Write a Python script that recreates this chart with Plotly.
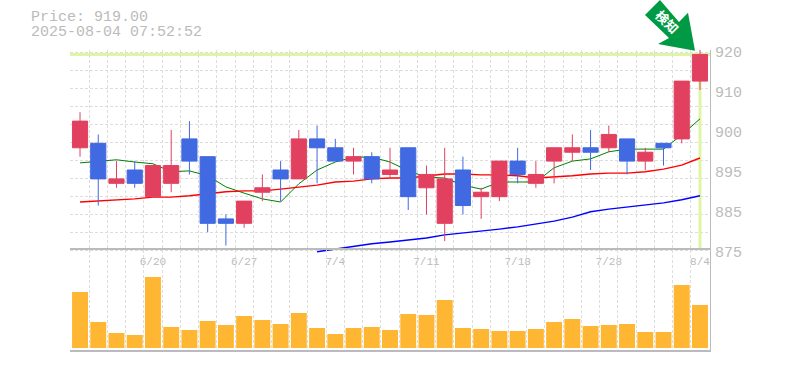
import plotly.graph_objects as go

W, H = 785, 370

tick_idx = [4, 9, 14, 19, 24, 29, 34]
tick_labels = ["6/20", "6/27", "7/4", "7/11", "7/18", "7/28", "8/4"]
price_tick_vals = [875, 884, 893, 902, 911, 920]
price_tick_text = ["875", "885", "895", "900", "910", "920"]

opens = [898, 899, 890, 893, 887, 890, 900, 896, 882, 881, 888, 893, 891, 900, 898, 895, 896, 892,
         898, 889, 881, 893, 887, 887, 895, 890, 895, 897, 898, 898, 900, 895, 899, 900, 913]
closes = [904, 891, 891, 890, 894, 894, 895, 881, 881, 886, 889, 891, 900, 898, 895, 896, 891, 893,
          887, 892, 891, 885, 888, 895, 892, 892, 898, 898, 897, 901, 895, 897, 898, 913, 919]
highs = [906, 901, 895, 895, 894, 902, 904, 896, 883, 886, 892, 895, 902, 903, 900, 898, 897, 898,
         898, 894, 898, 896, 889, 895, 898, 895, 898, 901, 902, 903, 900, 898, 899, 913, 920]
lows = [896, 885, 889, 889, 887, 888, 892, 879, 876, 880, 886, 886, 891, 890, 895, 892, 890, 891,
        884, 883, 877, 883, 882, 886, 890, 889, 890, 895, 893, 897, 892, 893, 894, 899, 911]
ma_short = [894.6, 895.0, 895.3, 894.8, 894.4, 892.6, 892.8, 891.7, 889.2, 887.8, 886.5, 885.8,
            889.9, 893.0, 894.8, 895.9, 895.9, 894.8, 892.8, 891.4, 891.2, 889.6, 888.7, 890.3,
            890.3, 890.3, 893.5, 895.0, 895.5, 897.1, 897.7, 897.7, 897.7, 900.9, 904.5]
ma_mid = [885.8, 886.0, 886.3, 886.5, 886.9, 886.9, 887.2, 887.6, 888.1, 888.3, 888.3, 888.7,
          889.2, 889.6, 890.3, 890.5, 891.0, 891.2, 891.2, 891.7, 892.1, 892.1, 891.9, 891.9,
          891.7, 891.2, 891.4, 891.7, 892.1, 892.3, 892.3, 892.6, 893.2, 894.1, 895.7]
ma_long = [None] * 13 + [874.6, 875.2, 875.9, 876.4, 876.8, 877.3, 877.7, 878.4, 878.8, 879.3,
                         879.7, 880.2, 880.9, 881.5, 882.4, 883.6, 884.2, 884.7, 885.1, 885.6,
                         886.3, 887.2]
volumes = [56, 26, 15, 13, 71, 21, 18, 27, 23, 32, 28, 24, 35, 20, 14, 20, 21, 18,
           34, 33, 48, 20, 19, 17, 17, 19, 26, 29, 22, 23, 24, 16, 16, 63, 43]
last_price = 919
header = ["Price: 919.00", "2025-08-04 07:52:52"]
badge_text = "<b>検知</b>"

xs = list(range(len(opens)))
GRAY = "#bbbbbb"
GRID = "#dddddd"
MONO = "Liberation Mono"
Y_RANGE = [874.325, 920]  # extends 3px under the panel divider so the long average shows there


def px(x):
    return x / W


def py(y):
    return (H - y) / H


grid_x = [i - 0.5 for i in xs] + [xs[-1] + 0.5]
minor = dict(tickmode="array", tickvals=grid_x, showgrid=True, gridcolor=GRID,
             griddash="3px,2px", gridwidth=1, ticks="")

fig = go.Figure()
for vals, col, w in [(ma_short, "#008000", 1), (ma_mid, "#ff0000", 1.4), (ma_long, "#0000ff", 1.4)]:
    fig.add_trace(go.Scatter(x=xs, y=vals, mode="lines", line=dict(color=col, width=w),
                             xaxis="x", yaxis="y", showlegend=False))
fig.add_trace(go.Candlestick(
    x=xs, open=opens, high=highs, low=lows, close=closes, xaxis="x", yaxis="y3",
    whiskerwidth=0, showlegend=False,
    increasing=dict(line=dict(color="#e2405f", width=1), fillcolor="#e2405f"),
    decreasing=dict(line=dict(color="#4169e1", width=1), fillcolor="#4169e1")))
fig.add_trace(go.Bar(x=xs, y=volumes, marker=dict(color="#ffb733", line_width=0), width=0.875,
                     xaxis="x2", yaxis="y2", showlegend=False))
fig.add_trace(go.Scatter(x=xs[:len(price_tick_vals)], y=price_tick_vals, mode="none",
                         hoverinfo="skip", xaxis="x3", yaxis="y4", showlegend=False))

x_dom = [px(70), px(710)]
x_rng = [-0.55, 34.55]
arrow_pts = [(660, 0), (645, 15), (669, 38), (658, 44), (695, 50.7), (688, 12.7), (679, 22)]
arrow_path = "M" + " L".join(f"{px(a):.5f},{py(b):.5f}" for a, b in arrow_pts) + " Z"

fig.update_layout(
    width=W, height=H, autosize=False,
    margin=dict(l=0, r=0, t=0, b=0),
    paper_bgcolor="white", plot_bgcolor="rgba(0,0,0,0)",
    showlegend=False, boxgap=0.17, boxgroupgap=0, bargap=0.12,
    font=dict(family=MONO, color=GRAY),
    xaxis=dict(domain=x_dom, range=x_rng, anchor="y", rangeslider=dict(visible=False),
               tickmode="array", tickvals=tick_idx, ticktext=tick_labels, showgrid=False,
               ticks="", zeroline=False, showline=False,
               tickfont=dict(family=MONO, size=11, color=GRAY),
               minor=minor),
    xaxis2=dict(domain=x_dom, range=x_rng, anchor="y2", showgrid=False, showticklabels=False,
                ticks="", tickmode="array", tickvals=[], zeroline=False, showline=True,
                mirror=True, linecolor=GRAY, linewidth=2, minor=minor),
    xaxis3=dict(domain=x_dom, range=x_rng, anchor="y4", visible=False),
    yaxis=dict(domain=[py(253), py(50)], range=Y_RANGE, anchor="x", side="right",
               tick0=875, dtick=4.05, showticklabels=False, ticks="", showgrid=True,
               gridcolor=GRID, griddash="3px,2px", gridwidth=1, zeroline=False,
               showline=True, linecolor=GRAY, linewidth=1),
    yaxis3=dict(overlaying="y", range=Y_RANGE, anchor="x", side="right",
                showticklabels=False, ticks="", showgrid=False, zeroline=False),
    yaxis2=dict(domain=[py(350), py(250)], range=[-2, 98], anchor="x2", side="right",
                showticklabels=False, ticks="", showgrid=False, zeroline=False,
                showline=True, linecolor=GRAY, linewidth=1),
    yaxis4=dict(domain=[py(262), py(42)], range=[872.75, 922.25], anchor="free",
                position=px(714), side="right", tickmode="array", tickvals=price_tick_vals,
                ticktext=price_tick_text, ticks="", showgrid=False, zeroline=False,
                showline=False, tickfont=dict(family=MONO, size=15, color=GRAY)),
    shapes=[
        dict(type="line", xref="paper", yref="y", x0=px(70), x1=px(710), y0=last_price, y1=last_price,
             line=dict(color="#def5a3", width=3), layer="between"),
        dict(type="line", xref="x", yref="y", x0=xs[-1], x1=xs[-1], y0=875.2, y1=last_price,
             line=dict(color="#def5a3", width=3), layer="between"),
        dict(type="path", xref="paper", yref="paper", path=arrow_path,
             fillcolor="#009944", line=dict(width=0), layer="below"),
    ],
    annotations=[
        dict(text=header[0], xref="paper", yref="paper", x=px(29), y=py(18), xanchor="left",
             yanchor="middle", showarrow=False, font=dict(family=MONO, size=15, color=GRAY)),
        dict(text=header[1], xref="paper", yref="paper", x=px(29), y=py(32), xanchor="left",
             yanchor="middle", showarrow=False, font=dict(family=MONO, size=15, color=GRAY)),
        dict(text=badge_text, xref="paper", yref="paper", x=px(667), y=py(22), textangle=45,
             xanchor="center", yanchor="middle", showarrow=False,
             font=dict(family="Noto Sans CJK JP", size=13, color="white")),
    ],
)
fig.write_html("out.html", config=dict(displayModeBar=False),
               post_script="document.body.style.margin='0';")
